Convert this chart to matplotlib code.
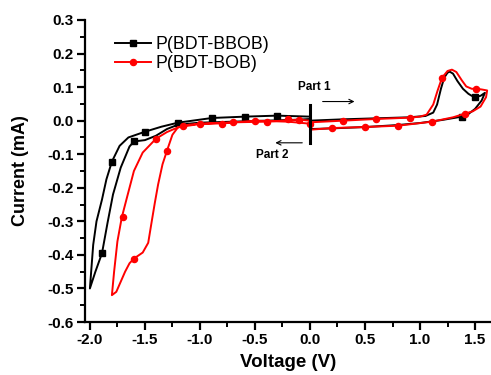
import matplotlib
matplotlib.use("Agg")
import matplotlib.pyplot as plt
from matplotlib.lines import Line2D
from matplotlib.ticker import MultipleLocator

plt.rcParams['font.family'] = ['Liberation Sans', 'DejaVu Sans']

# ---- P(BDT-BBOB) (black) ----
bk_v = [0.0, 0.3, 0.6, 0.9, 1.05, 1.12, 1.155, 1.19, 1.22, 1.25, 1.27, 1.30, 1.34, 1.39, 1.44, 1.47, 1.51, 1.55, 1.59,
        1.59, 1.56, 1.50, 1.44, 1.38, 1.2, 1.0, 0.8, 0.5, 0.2, 0.0,
        0.0, -0.3, -0.59, -0.89, -1.2, -1.35, -1.5, -1.65, -1.73, -1.8, -1.85, -1.89, -1.94, -1.97, -2.0,
        -1.95, -1.89, -1.84, -1.79, -1.72, -1.64, -1.6, -1.5, -1.4, -1.3, -1.2, -1.0, -0.7, -0.4, -0.1, 0.0]
bk_i = [0.0, 0.004, 0.007, 0.01, 0.014, 0.024, 0.048, 0.095, 0.128, 0.143, 0.146, 0.14, 0.118, 0.095, 0.08, 0.074, 0.071, 0.074, 0.083,
        0.083, 0.06, 0.035, 0.02, 0.012, 0.002, -0.007, -0.013, -0.019, -0.023, -0.025,
        0.012, 0.015, 0.012, 0.008, -0.006, -0.018, -0.033, -0.05, -0.075, -0.122, -0.175, -0.235, -0.3, -0.37, -0.5,
        -0.45, -0.395, -0.305, -0.22, -0.14, -0.077, -0.062, -0.058, -0.045, -0.025, -0.012, -0.006, -0.003, 0.0, 0.003, 0.005]
bk_mv = [1.5, 1.38, -0.3, -0.59, -0.89, -1.2, -1.5, -1.8, -1.89, -1.6]
bk_mi = [0.071, 0.012, 0.015, 0.012, 0.008, -0.006, -0.033, -0.122, -0.395, -0.062]

# ---- P(BDT-BOB) (red) ----
rd_v = [0.0, 0.3, 0.6, 0.91, 1.0, 1.06, 1.12, 1.16, 1.2, 1.25, 1.29, 1.33, 1.38, 1.42, 1.47, 1.51, 1.56, 1.61,
        1.61, 1.60, 1.55, 1.48, 1.41, 1.3, 1.11, 0.8, 0.5, 0.2, 0.0,
        0.0, -0.2, -0.5, -0.8, -1.0, -1.15, -1.2, -1.3, -1.4, -1.52, -1.6, -1.66, -1.71, -1.75, -1.78, -1.8,
        -1.76, -1.72, -1.68, -1.64, -1.6, -1.52, -1.47, -1.44, -1.41, -1.38, -1.34, -1.3, -1.25, -1.2, -1.1, -1.0,
        -0.7, -0.4, -0.1, 0.0]
rd_i = [-0.005, 0.0, 0.005, 0.009, 0.012, 0.018, 0.048, 0.09, 0.128, 0.148, 0.152, 0.145, 0.12, 0.102, 0.095, 0.095, 0.093, 0.09,
        0.09, 0.07, 0.042, 0.028, 0.021, 0.01, -0.003, -0.015, -0.019, -0.022, -0.027,
        -0.009, -0.003, 0.0, -0.008, -0.01, -0.017, -0.02, -0.034, -0.054, -0.095, -0.15, -0.225, -0.288, -0.36, -0.45, -0.52,
        -0.51, -0.48, -0.45, -0.425, -0.411, -0.393, -0.364, -0.304, -0.245, -0.19, -0.13, -0.09, -0.042, -0.02, -0.012, -0.009,
        -0.005, -0.003, 0.003, 0.0]
rd_mv = [0.3, 0.6, 0.91, 1.2, 1.51, 1.41, 1.11, 0.8, 0.5, 0.2,
         0.0, -0.2, -0.5, -0.8, -1.15, -1.4, -1.7, -1.6, -1.3, -1.0, -0.7, -0.39, -0.1]
rd_mi = [0.0, 0.005, 0.009, 0.128, 0.095, 0.021, -0.003, -0.015, -0.019, -0.022,
         -0.009, 0.004, 0.0, -0.009, -0.017, -0.054, -0.288, -0.411, -0.09, -0.009, -0.005, -0.003, 0.003]

labels = ['P(BDT-BBOB)', 'P(BDT-BOB)']
x_ticks = [-2.0, -1.5, -1.0, -0.5, 0.0, 0.5, 1.0, 1.5]
y_ticks = [-0.6, -0.5, -0.4, -0.3, -0.2, -0.1, 0.0, 0.1, 0.2, 0.3]

fig = plt.figure(figsize=(4.91, 3.75), dpi=100)
ax = fig.add_axes([0.173, 0.1413, 0.827, 0.8054])

ax.plot(bk_v, bk_i, color='black', lw=1.4, zorder=3)
ax.plot(bk_mv, bk_mi, ls='none', marker='s', ms=3.8, color='black', zorder=3)
ax.plot(rd_v, rd_i, color='red', lw=1.4, zorder=4)
ax.plot(rd_mv, rd_mi, ls='none', marker='o', ms=4.4, color='red', zorder=4)

# start marker bar at 0 V
ax.plot([0.0, 0.0], [0.048, -0.066], color='black', lw=2.2, zorder=5)

ax.set_xlim(-2.045, 1.645)
ax.set_ylim(-0.6, 0.3)
ax.set_xticks(x_ticks)
ax.set_yticks(y_ticks)
ax.set_xticklabels([f'{t:.1f}' for t in x_ticks])
ax.set_yticklabels([f'{t:.1f}' for t in y_ticks])
ax.xaxis.set_minor_locator(MultipleLocator(0.25))
ax.yaxis.set_minor_locator(MultipleLocator(0.05))
for s in ['top', 'right']:
    ax.spines[s].set_visible(False)
for s in ['left', 'bottom']:
    ax.spines[s].set_linewidth(1.6)
ax.tick_params(which='major', direction='out', length=6, width=1.6, labelsize=11, pad=2)
ax.tick_params(which='minor', direction='out', length=3.5, width=1.4)
for lab in ax.get_xticklabels() + ax.get_yticklabels():
    lab.set_fontweight('bold')

ax.set_xlabel('Voltage (V)', fontsize=13.5, fontweight='bold', labelpad=5)
ax.set_ylabel('Current (mA)', fontsize=13, fontweight='bold', labelpad=13)

handles = [Line2D([], [], color='black', lw=1.4, marker='s', ms=3.8),
           Line2D([], [], color='red', lw=1.4, marker='o', ms=4.4)]
ax.legend(handles, labels, loc='upper left', bbox_to_anchor=(0.035, 1.0), frameon=False,
          fontsize=12.8, handlelength=2.0, handletextpad=0.25, labelspacing=0.12)

# Part annotations
ax.text(0.04, 0.101, 'Part 1', fontsize=8.5, fontweight='bold', ha='center', va='center')
ax.annotate('', xy=(0.43, 0.057), xytext=(0.09, 0.057),
            arrowprops=dict(arrowstyle='->', color='black', lw=0.8, mutation_scale=8))
ax.text(-0.345, -0.101, 'Part 2', fontsize=8.5, fontweight='bold', ha='center', va='center')
ax.annotate('', xy=(-0.34, -0.066), xytext=(-0.045, -0.066),
            arrowprops=dict(arrowstyle='->', color='black', lw=0.8, mutation_scale=8))

fig.savefig('out.png', dpi=100)
